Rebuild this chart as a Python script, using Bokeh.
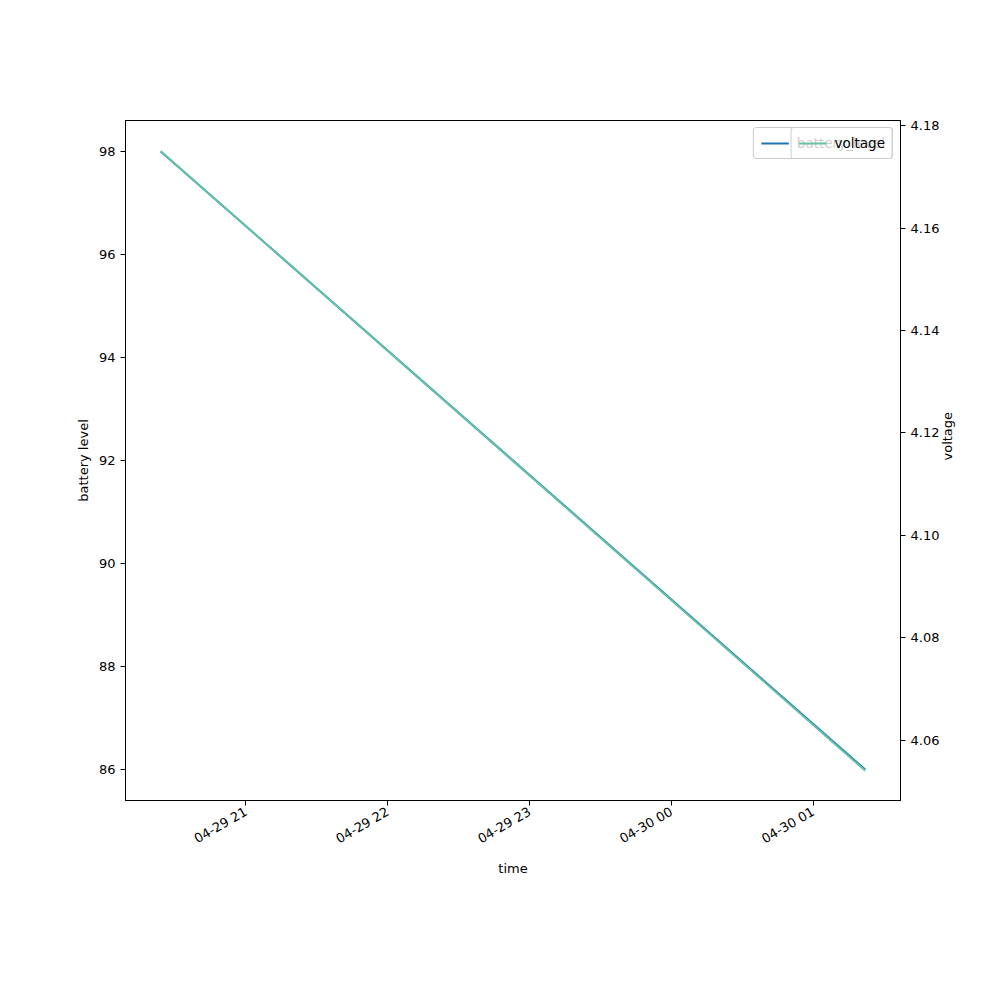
import math
from datetime import datetime
from bokeh.plotting import figure
from bokeh.models import (Range1d, LinearAxis, Legend, LegendItem, FixedTicker,
                          DatetimeTickFormatter, ColumnDataSource, NumeralTickFormatter)
from bokeh.embed import file_html
from bokeh.resources import INLINE

# ---- data ----
times = [datetime(2023, 4, 29, 20, 24), datetime(2023, 4, 30, 1, 22)]
battery_level = [98, 86]
voltage = [4.175, 4.054]
hour_ticks = [datetime(2023, 4, 29, 21), datetime(2023, 4, 29, 22), datetime(2023, 4, 29, 23),
              datetime(2023, 4, 30, 0), datetime(2023, 4, 30, 1)]
left_ticks = [86, 88, 90, 92, 94, 96, 98]
right_ticks = [4.06, 4.08, 4.10, 4.12, 4.14, 4.16, 4.18]

def ms(d):
    return (d - datetime(1970, 1, 1)).total_seconds() * 1000.0

t0, t1 = ms(times[0]), ms(times[-1])
span = t1 - t0
FONT = "DejaVu Sans"

p = figure(width=984, height=984, x_axis_type="datetime", output_backend="svg",
           toolbar_location=None,
           x_range=Range1d(t0 - 0.05 * span, t1 + 0.05 * span),
           y_range=Range1d(85.4, 98.6),
           min_border_left=125, min_border_right=84, min_border_top=120, min_border_bottom=184)
p.extra_y_ranges = {"v": Range1d(4.0482, 4.181)}
p.xgrid.visible = False
p.ygrid.visible = False
p.outline_line_color = "black"
p.outline_line_width = 1
p.background_fill_color = "white"
p.border_fill_color = "white"

src = ColumnDataSource(dict(t=times, b=battery_level, v=voltage))
r1 = p.line("t", "b", source=src, line_color="#1f77b4", line_width=2)
r2 = p.line("t", "v", source=src, line_color="#66c2a5", line_width=2, y_range_name="v")

raxis = LinearAxis(y_range_name="v", axis_label="voltage")
p.add_layout(raxis, "right")

p.xaxis.ticker = FixedTicker(ticks=[ms(d) for d in hour_ticks])
p.xaxis.formatter = DatetimeTickFormatter(hours="%m-%d %H", days="%m-%d %H", minutes="%m-%d %H",
                                          hourmin="%m-%d %H")
p.xaxis.major_label_orientation = math.radians(30)
p.xaxis.axis_label = "time"
p.yaxis[0].axis_label = "battery level"
p.yaxis[0].ticker = FixedTicker(ticks=left_ticks)
raxis.ticker = FixedTicker(ticks=right_ticks)
raxis.formatter = NumeralTickFormatter(format="0.00")
raxis.axis_label_orientation = math.pi / 2

for ax in [p.xaxis[0], p.yaxis[0], raxis]:
    ax.axis_line_color = "black"
    ax.major_tick_out = 5
    ax.major_tick_in = 0
    ax.minor_tick_out = 0
    ax.minor_tick_in = 0
    ax.major_tick_line_color = "black"
    ax.major_label_text_font = FONT
    ax.major_label_text_font_size = "13px"
    ax.major_label_text_color = "black"
    ax.axis_label_text_font = FONT
    ax.axis_label_text_font_size = "13px"
    ax.axis_label_text_font_style = "normal"
    ax.axis_label_text_color = "black"

def mk_legend(label, r):
    lg = Legend(items=[LegendItem(label=label, renderers=[r])], location="top_right",
                background_fill_alpha=0.8, border_line_color="#cccccc", border_line_alpha=1,
                label_text_font=FONT, label_text_font_size="13.5px", label_text_color="black",
                glyph_width=28, glyph_height=14, padding=7, margin=7, spacing=0,
                label_standoff=8, border_radius=3)
    return lg

p.add_layout(mk_legend("battery_level", r1), "center")
p.add_layout(mk_legend("voltage", r2), "center")

open("out.html", "w").write(file_html(p, INLINE))
